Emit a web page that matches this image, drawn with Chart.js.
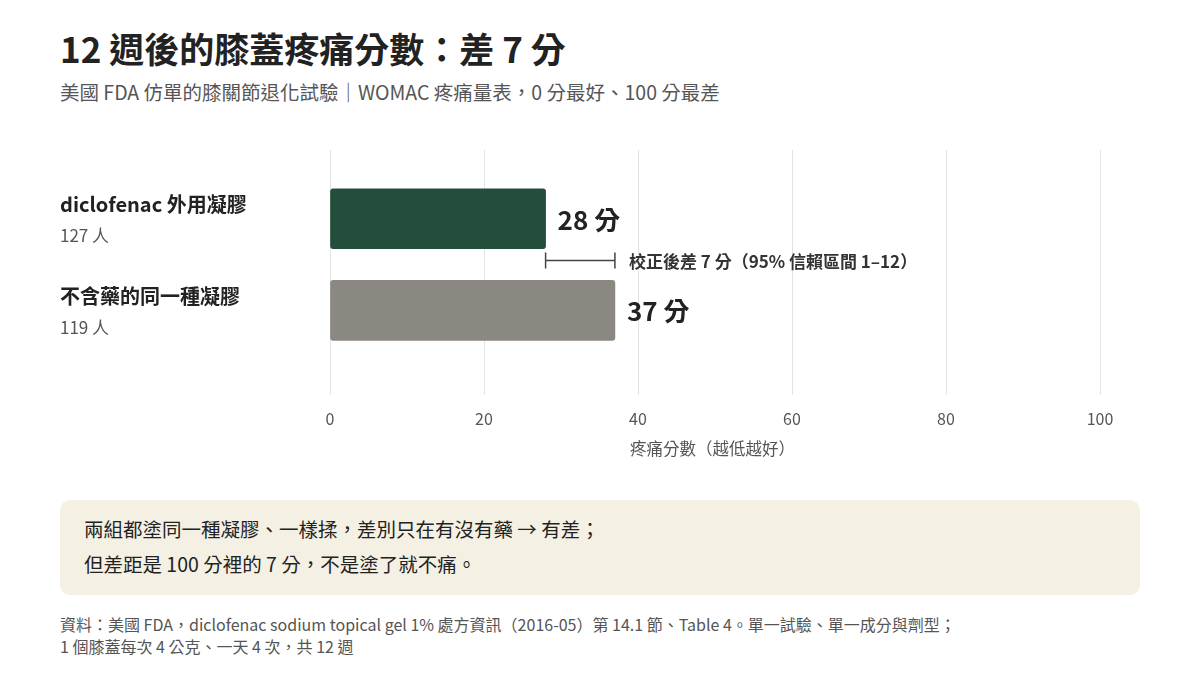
<!DOCTYPE html>
<html><head><meta charset="utf-8">
<script src="https://cdn.jsdelivr.net/npm/chart.js@4"></script>
<style>
body{margin:0;width:1200px;height:675px;background:#fff;font-family:"Noto Sans CJK TC","Noto Sans",sans-serif;color:#222;position:relative;overflow:hidden}
.t{position:absolute;left:60px;white-space:nowrap}
#title{top:22px;font-size:35px;font-weight:700;color:#222}
#sub{top:77px;font-size:19.5px;color:#555}
#axt{position:absolute;top:436px;left:630px;font-size:16.5px;color:#555}
#note{position:absolute;left:60px;top:500px;width:1080px;height:95px;background:#f4f0e4;border-radius:10px;font-size:19.5px;line-height:35px;color:#222;box-sizing:border-box;padding:11px 0 0 24px}
#foot{top:613px;font-size:16px;color:#555;line-height:22px}
#wrap{position:absolute;left:0;top:140px;width:1200px;height:330px}
</style></head><body>
<div class="t" id="title">12 週後的膝蓋疼痛分數：差 7 分</div>
<div class="t" id="sub">美國 FDA 仿單的膝關節退化試驗｜WOMAC 疼痛量表，0 分最好、100 分最差</div>
<div id="wrap"><canvas id="c" width="1200" height="330"></canvas></div>
<div id="axt">疼痛分數（越低越好）</div>
<div id="note">兩組都塗同一種凝膠、一樣揉，差別只在有沒有藥 → 有差；<br>但差距是 100 分裡的 7 分，不是塗了就不痛。</div>
<div class="t" id="foot">資料：美國 FDA，diclofenac sodium topical gel 1% 處方資訊（2016-05）第 14.1 節、Table 4。單一試驗、單一成分與劑型；<br>1 個膝蓋每次 4 公克、一天 4 次，共 12 週</div>
<script>
// === DATA ===
const groups = ["diclofenac 外用凝膠", "不含藥的同一種凝膠"];
const counts = ["127 人", "119 人"];
const scores = [28, 37];
const colors = ["#244d3b", "#8a8880"];
const diffLabel = "校正後差 7 分（95% 信賴區間 1–12）";
const xTicks = [0, 20, 40, 60, 80, 100];

const font = '"Noto Sans CJK TC","Noto Sans",sans-serif';

// label kiri, angka di ujung bar, dan bracket selisih
const labelPlugin = {
  id: "labels",
  afterDatasetsDraw(chart) {
    const ctx = chart.ctx, x = chart.scales.x, y = chart.scales.y;
    ctx.save();
    ctx.textBaseline = "middle";
    scores.forEach((v, i) => {
      const cy = y.getPixelForValue(i);
      ctx.fillStyle = "#222";
      ctx.font = "bold 20px " + font;
      ctx.fillText(groups[i], 60, cy - 14);
      ctx.fillStyle = "#555";
      ctx.font = "17px " + font;
      ctx.fillText(counts[i], 60, cy + 17);
      ctx.fillStyle = "#222";
      ctx.font = "bold 26px " + font;
      ctx.fillText(v + " 分", x.getPixelForValue(v) + 12, cy + 1);
    });
    const by = y.getPixelForValue(0.455);
    const x1 = x.getPixelForValue(scores[0]), x2 = x.getPixelForValue(scores[1]);
    ctx.strokeStyle = "#444";
    ctx.lineWidth = 1.5;
    ctx.beginPath();
    ctx.moveTo(x1, by); ctx.lineTo(x2, by);
    ctx.moveTo(x1, by - 8); ctx.lineTo(x1, by + 8);
    ctx.moveTo(x2, by - 8); ctx.lineTo(x2, by + 8);
    ctx.stroke();
    ctx.fillStyle = "#333";
    ctx.font = "bold 17px " + font;
    ctx.fillText(diffLabel, x2 + 14, by + 1);
    ctx.restore();
  }
};

new Chart(document.getElementById("c"), {
  type: "bar",
  data: {
    datasets: [{
      data: scores.map((v, i) => ({ x: v, y: i })),
      backgroundColor: colors,
      borderRadius: 3,
      borderSkipped: false,
      barThickness: 60
    }]
  },
  options: {
    indexAxis: "y",
    responsive: false,
    animation: false,
    layout: { padding: { left: 330, right: 100, top: 10, bottom: 0 } },
    plugins: { legend: { display: false }, tooltip: { enabled: false } },
    scales: {
      x: {
        type: "linear", min: 0, max: 100,
        afterBuildTicks: s => { s.ticks = xTicks.map(v => ({ value: v })); },
        afterFit: s => { s.height = 75; },
        grid: { color: "#e3e3e3", drawTicks: false },
        border: { display: false },
        ticks: { padding: 14, color: "#555", font: { size: 16, family: font } }
      },
      y: { type: "linear", reverse: true, min: -0.527, max: 1.7, display: false }
    }
  },
  plugins: [labelPlugin]
});
</script>
</body></html>
